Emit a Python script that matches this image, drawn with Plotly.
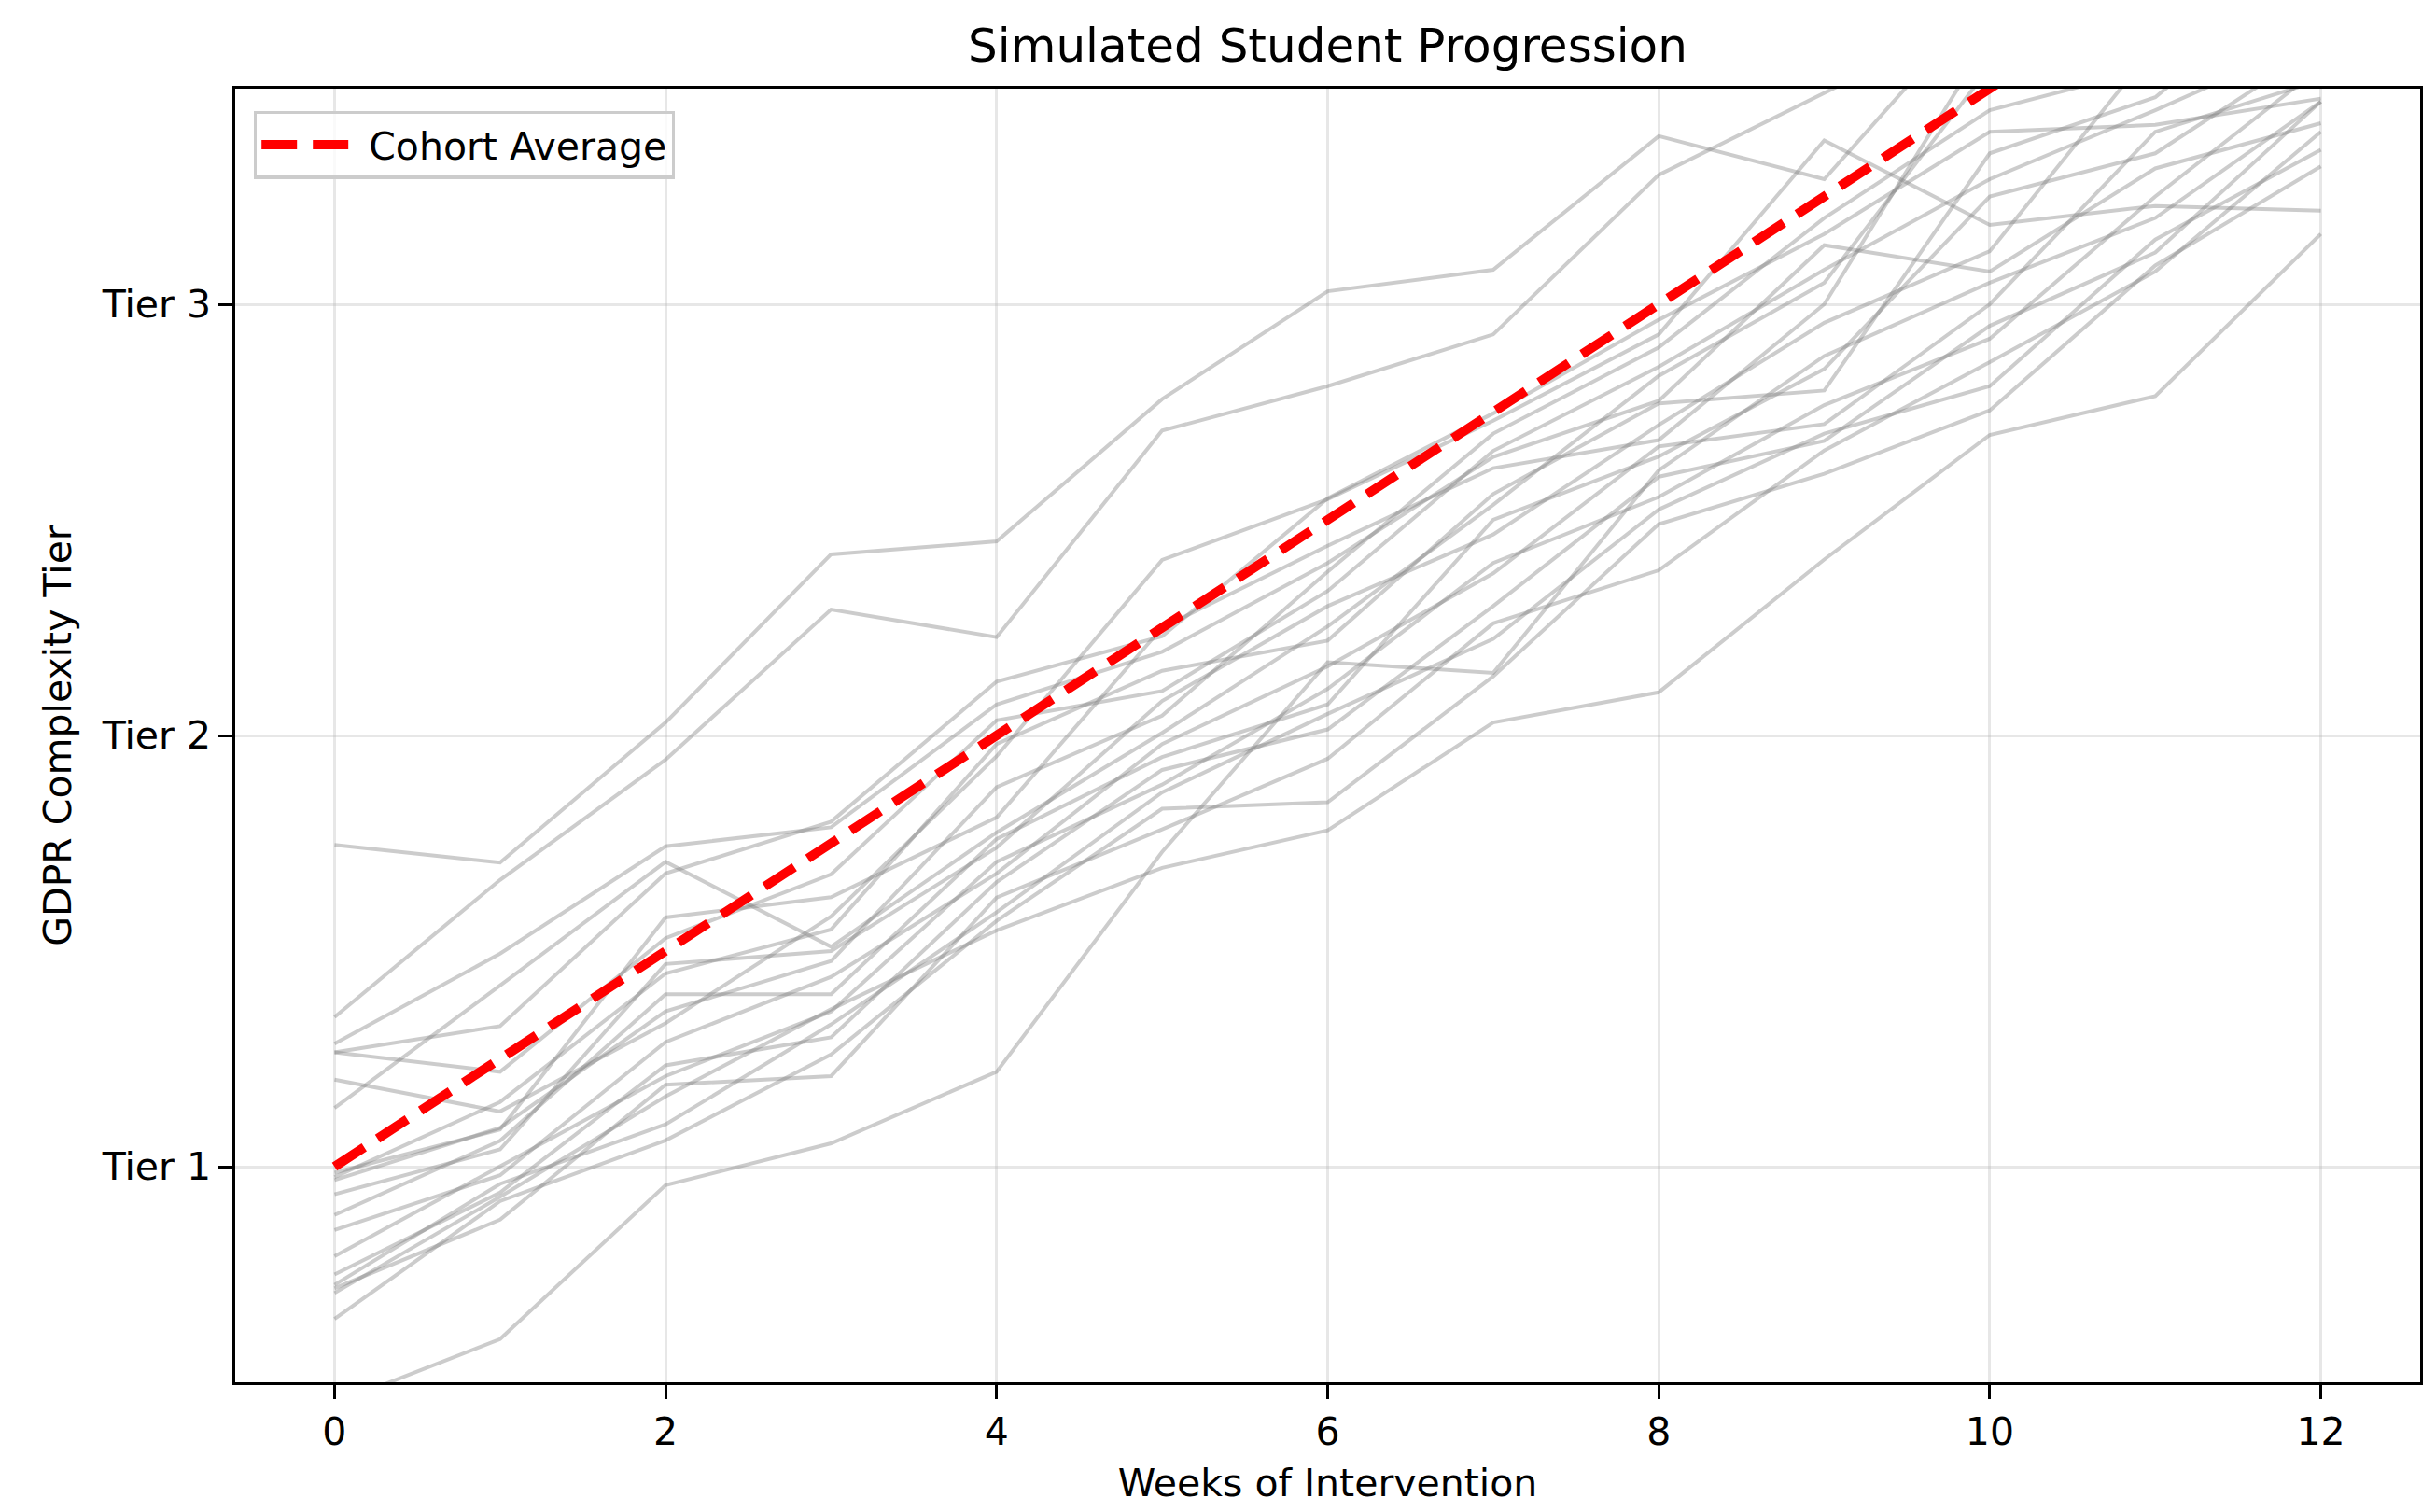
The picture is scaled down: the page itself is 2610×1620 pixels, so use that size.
import plotly.graph_objects as go

# ---------------- data ----------------
weeks = [0, 1, 2, 3, 4, 5, 6, 7, 8, 9, 10, 11, 12]
cohort_average = [1.0, 1.25, 1.5, 1.75, 2.0, 2.25, 2.5, 2.75, 3.0, 3.25, 3.5, 3.75, 4.0]

student_01 = [1.746, 1.705, 2.03, 2.42, 2.45, 2.78, 3.03, 3.08, 3.39, 3.29, 3.72, 3.85, 3.95]
student_02 = [1.347, 1.665, 1.944, 2.292, 2.228, 2.707, 2.81, 2.93, 3.30, 3.49, 3.68, 3.80, 3.95]
student_03 = [1.285, 1.494, 1.743, 1.787, 2.072, 2.194, 2.40, 2.646, 2.776, 3.137, 3.076, 3.315, 3.42]
student_04 = [1.265, 1.326, 1.68, 1.80, 2.125, 2.23, 2.55, 2.747, 2.964, 3.163, 3.40, 3.416, 3.477]
student_05 = [1.265, 1.22, 1.53, 1.678, 2.035, 2.103, 2.335, 2.66, 2.855, 3.08, 3.29, 3.45, 3.62]
student_06 = [1.202, 1.128, 1.333, 1.58, 1.952, 2.407, 2.548, 2.73, 2.93, 3.38, 3.184, 3.228, 3.217]
student_07 = [1.136, 1.42, 1.707, 1.51, 1.775, 2.006, 2.253, 2.535, 2.834, 3.05, 3.55, 3.70, 3.90]
student_08 = [0.976, 1.15, 1.448, 1.55, 1.98, 2.15, 2.22, 2.56, 2.77, 2.80, 3.35, 3.48, 3.80]
student_09 = [0.986, 1.086, 1.578, 1.625, 1.81, 2.25, 2.44, 2.62, 2.685, 3.00, 3.62, 3.75, 3.90]
student_10 = [0.969, 1.09, 1.36, 1.477, 1.88, 2.046, 2.38, 2.70, 2.90, 3.20, 3.45, 3.55, 3.65]
student_11 = [0.936, 1.04, 1.47, 1.50, 1.74, 2.08, 2.30, 2.466, 2.72, 2.957, 3.123, 3.60, 3.70]
student_12 = [0.888, 1.06, 1.40, 1.40, 1.76, 1.95, 2.072, 2.50, 2.647, 2.85, 3.25, 3.35, 3.60]
student_13 = [0.853, 0.98, 1.289, 1.44, 1.68, 1.98, 2.16, 2.376, 2.67, 2.722, 3.00, 3.40, 3.52]
student_14 = [0.792, 1.00, 1.21, 1.36, 1.707, 1.886, 2.108, 2.40, 2.553, 2.766, 2.92, 3.25, 3.55]
student_15 = [0.75, 0.94, 1.235, 1.30, 1.66, 1.92, 2.014, 2.30, 2.60, 2.683, 2.95, 3.12, 3.47]
student_16 = [0.726, 0.96, 1.098, 1.33, 1.59, 1.868, 2.05, 2.224, 2.524, 2.70, 2.81, 3.15, 3.358]
student_17 = [0.718, 0.877, 1.19, 1.21, 1.624, 1.782, 1.946, 2.26, 2.383, 2.661, 2.866, 3.076, 3.40]
student_18 = [0.647, 0.92, 1.061, 1.26, 1.57, 1.83, 1.845, 2.137, 2.49, 2.607, 2.754, 3.09, 3.32]
student_19 = [0.45, 0.60, 0.957, 1.054, 1.22, 1.73, 2.17, 2.145, 2.615, 2.88, 3.05, 3.20, 3.47]
student_20 = [0.707, 0.93, 1.163, 1.365, 1.548, 1.693, 1.78, 2.03, 2.10, 2.408, 2.697, 2.787, 3.163]

students = [student_01, student_02, student_03, student_04, student_05,
            student_06, student_07, student_08, student_09, student_10,
            student_11, student_12, student_13, student_14, student_15,
            student_16, student_17, student_18, student_19, student_20]

tier_values = [1, 2, 3]
tier_labels = ["Tier 1", "Tier 2", "Tier 3"]
week_ticks = [0, 2, 4, 6, 8, 10, 12]

# ---------------- figure ----------------
FONT = "DejaVu Sans"
LBL = 41
fig = go.Figure()

for s in students:
    fig.add_trace(go.Scatter(
        x=weeks, y=s, mode="lines",
        line=dict(color="rgba(128,128,128,0.4)", width=4),
        showlegend=False, hoverinfo="skip"))

fig.add_trace(go.Scatter(
    x=weeks, y=cohort_average, mode="lines", name="Cohort Average",
    line=dict(color="#ff0000", width=10, dash="38px,17px")))

axis_common = dict(
    showline=True, linecolor="black", linewidth=3.3, mirror=True,
    ticks="outside", ticklen=14.6, tickwidth=3.3, tickcolor="black",
    showgrid=True, gridcolor="rgba(176,176,176,0.3)", gridwidth=3.3,
    zeroline=False, tickfont=dict(family=FONT, size=LBL, color="black"),
)

fig.update_layout(
    width=2610, height=1620,
    paper_bgcolor="white", plot_bgcolor="white",
    margin=dict(l=244, r=25, t=87, b=147, autoexpand=False),
    title=dict(text="Simulated Student Progression", x=0.5, xref="paper",
               y=1 - 40 / 1620, yref="container", yanchor="middle",
               font=dict(family=FONT, size=50, color="black")),
    xaxis=dict(range=[-0.6, 12.6], tickvals=week_ticks,
               title=dict(text="Weeks of Intervention", standoff=18,
                          font=dict(family=FONT, size=LBL, color="black")),
               **axis_common),
    yaxis=dict(range=[0.5, 3.5], tickvals=tier_values, ticktext=tier_labels,
               title=dict(text="GDPR Complexity Tier", standoff=20,
                          font=dict(family=FONT, size=LBL, color="black")),
               **axis_common),
    legend=dict(x=0.0085, y=0.983, xanchor="left", yanchor="top",
                bgcolor="rgba(255,255,255,0.8)", bordercolor="#cccccc",
                borderwidth=3.3, font=dict(family=FONT, size=LBL, color="black"),
                itemwidth=110),
)

fig.write_html("out.html")
